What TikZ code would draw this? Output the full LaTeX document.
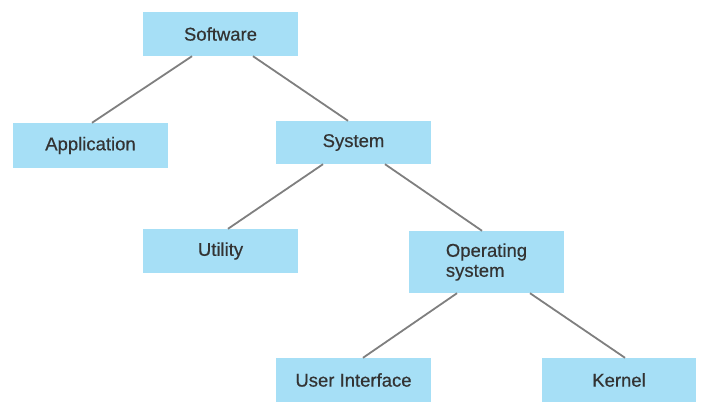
\documentclass[tikz,border=0pt]{standalone}
\usepackage{fontspec}
\newfontfamily\boxfont{Liberation Sans}[FakeBold=0.5]
\definecolor{boxfill}{HTML}{A6DFF6}
\definecolor{txt}{HTML}{333333}
\definecolor{linecol}{HTML}{7F7F7F}
\begin{document}
\begin{tikzpicture}[x=1pt,y=-1pt,
  box/.style={rectangle,fill=boxfill,draw=none,minimum width=155pt,inner sep=0pt,
    text=txt,font=\boxfont\fontsize{18.5}{20}\selectfont,align=left},
  link/.style={draw=linecol,line width=1.8pt}]
\useasboundingbox (0,0) rectangle (708,414);
\node[box,minimum height=44pt] (sw) at (220.5,34) {Software};
\node[box,minimum height=45pt] (app) at (90.5,145.5) {Application};
\node[box,minimum height=43pt] (sys) at (353.5,142.5) {System};
\node[box,minimum height=44pt] (util) at (220.5,251) {Utility};
\node[box,minimum height=62pt] (os) at (486.5,262) {Operating\\system};
\node[box,minimum height=44pt] (ui) at (353.5,380) {User Interface};
\node[box,minimum height=44pt,minimum width=154pt] (ker) at (619,380) {Kernel};
\draw[link] ([xshift=-28.5pt]sw.south) -- ([xshift=1.5pt]app.north);
\draw[link] ([xshift=32.5pt]sw.south) -- ([xshift=-5.5pt]sys.north);
\draw[link] ([xshift=-30.5pt]sys.south) -- ([xshift=7.5pt]util.north);
\draw[link] ([xshift=31.5pt]sys.south) -- ([xshift=-4.5pt]os.north);
\draw[link] ([xshift=-29.5pt]os.south) -- ([xshift=9.5pt]ui.north);
\draw[link] ([xshift=43.5pt]os.south) -- ([xshift=6pt]ker.north);
\end{tikzpicture}
\end{document}
